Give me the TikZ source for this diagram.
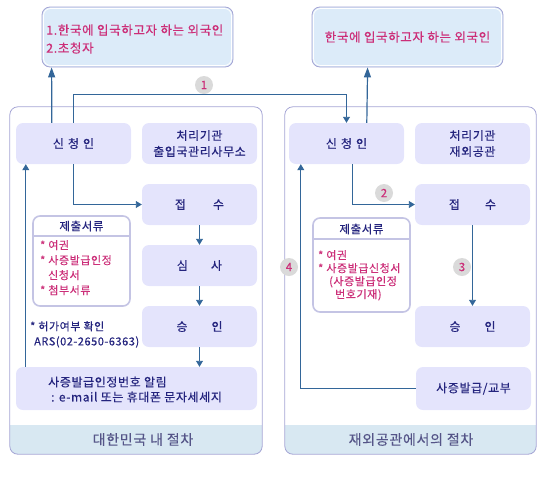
\documentclass[tikz,border=0pt]{standalone}
\usepackage{fontspec}
\setmainfont{Noto Sans CJK KR}[LetterSpace=5,FakeBold=0.3]
\usetikzlibrary{arrows.meta,calc}
\definecolor{boxfill}{HTML}{E4E4FC}
\definecolor{navy}{HTML}{24247E}
\definecolor{mag}{HTML}{CC2E78}
\definecolor{conn}{HTML}{336699}
\definecolor{panelb}{HTML}{A4A4D4}
\definecolor{topfill}{HTML}{DCEBF9}
\definecolor{stripfill}{HTML}{D8E8F2}
\definecolor{striptext}{HTML}{555588}
\definecolor{docb}{HTML}{C4C4E4}
\definecolor{circ}{HTML}{DADADA}
\begin{document}
\begin{tikzpicture}[x=1pt,y=-1pt,
  ibox/.style={fill=boxfill, draw=none, rounded corners=7pt, inner sep=0pt,
    minimum width=115pt, minimum height=41pt, text=navy, align=center,
    font=\fontsize{12}{16}\selectfont},
  topbox/.style={fill=topfill, draw=panelb, line width=0.8pt, rounded corners=8pt,
    minimum width=191pt, minimum height=60pt, inner sep=0pt},
  topinner/.style={draw=white, line width=0.8pt, rounded corners=7pt,
    minimum width=188pt, minimum height=57pt, inner sep=0pt},
  panel/.style={draw=none, minimum width=252pt, minimum height=347pt, inner sep=0pt},
  docbox/.style={fill=white, draw=docb, line width=1.6pt, rounded corners=7pt,
    minimum width=97pt, inner sep=0pt},
  arrow/.style={draw=conn, line width=0.9pt, -{Triangle[length=6pt,width=7pt]}},
  uparrow/.style={draw=conn, line width=1.2pt, -{Triangle[length=10pt,width=7pt]}},
  num/.style={circle, fill=circ, minimum size=18pt, inner sep=0pt, text=mag,
    font=\fontsize{11.5}{12}\selectfont},
  magtext/.style={text=mag, align=left, inner sep=0pt, font=\fontsize{11}{15}\selectfont},
  navytext/.style={text=navy, inner sep=0pt, font=\fontsize{11}{15}\selectfont},
  striplabel/.style={text=striptext, inner sep=0pt, font=\fontsize{14}{16}\selectfont}]
\useasboundingbox (0,0) rectangle (546,480);

% panels
\node[panel] (panelL) at (136,280.5) {};
\node[panel, minimum width=251pt] (panelR) at (410.5,280.5) {};
\foreach \p in {panelL,panelR}{
  \begin{scope}
    \clip[rounded corners=8pt] (\p.south west) rectangle (\p.north east);
    \fill[stripfill] (\p.south west) rectangle ($(\p.south east)+(0,-29)$);
  \end{scope}
  \draw[panelb, line width=0.8pt, rounded corners=8pt] (\p.south west) rectangle (\p.north east);
}
\node[striplabel] (labL) at (143,439.5) {대한민국 내 절차};
\node[striplabel] (labR) at (411,439.5) {재외공관에서의 절차};

% top boxes
\node[topbox] (topL) at (137.5,37) {};
\node[topinner] (topLin) at (137.5,37) {};
\node[anchor=west, text=mag, align=left, inner sep=0pt, font=\fontsize{12.5}{18}\selectfont]
  (topLtext) at (46,39) {1.한국에 입국하고자 하는 외국인\\2.초청자};
\node[topbox] (topR) at (407.5,37) {};
\node[topinner] (topRin) at (407.5,37) {};
\node[text=mag, inner sep=0pt, font=\fontsize{12.5}{18}\selectfont] (topRtext) at (407.5,37)
  {한국에 입국하고자 하는 외국인};

% left boxes
\node[ibox] (sinL) at (73.5,143.5) {신\hspace{4pt}청\hspace{4pt}인};
\node[ibox] (orgL) at (199.5,143.5) {처리기관\\출입국관리사무소};
\node[ibox] (jeopL) at (199.5,204.5) {접\hspace{27pt}수};
\node[ibox] (simL) at (199.5,265.5) {심\hspace{23pt}사};
\node[ibox] (seungL) at (199.5,326.5) {승\hspace{24pt}인};
\node[ibox, minimum width=241pt, minimum height=43pt] (alimL) at (136.5,388.5) {};
\node[anchor=west, text=navy, align=left, inner sep=0pt, font=\fontsize{12}{15}\selectfont]
  (alimText) at (48,389.5) {사증발급인정번호 알림\\\hspace{3pt}: e-mail 또는 휴대폰 문자세세지};

% right boxes
\node[ibox] (sinR) at (346.5,143.5) {신\hspace{4pt}청\hspace{4pt}인};
\node[ibox] (orgR) at (472.5,143.5) {처리기관\\재외공관};
\node[ibox] (jeopR) at (472.5,204.5) {접\hspace{25pt}수};
\node[ibox] (seungR) at (472.5,326.5) {승\hspace{24pt}인};
\node[ibox, minimum height=43pt] (issueR) at (473.5,388.5) {사증발급/교부};

% document boxes
\node[docbox, minimum height=90pt] (docL) at (81.5,261) {};
\draw[docb, line width=1.6pt] ($(docL.north west)+(0,21)$) -- ($(docL.north east)+(0,21)$);
\node[text=navy, inner sep=0pt, font=\fontsize{11.5}{14}\selectfont] (docLh) at (81.5,226) {제출서류};
\node[magtext, anchor=north west] (docLi) at (40,240)
  {* 여권\\* 사증발급인정\\\hspace{8pt}신청서\\* 첨부서류};

\node[docbox, minimum height=94pt] (docR) at (361.5,265) {};
\draw[docb, line width=1.6pt] ($(docR.north west)+(0,22)$) -- ($(docR.north east)+(0,22)$);
\node[text=navy, inner sep=0pt, font=\fontsize{11.5}{14}\selectfont] (docRh) at (361.5,229) {제출서류};
\node[magtext, anchor=north west, font=\fontsize{11}{13}\selectfont] (docRi) at (318,250)
  {* 여권\\* 사증발급신청서\\\hspace{11pt}(사증발급인정\\\hspace{17pt}번호기재)};

% note
\node[navytext, anchor=north west, align=left] (note) at (30,321)
  {* 허가여부 확인\\\hspace{4pt}ARS(02-2650-6363)};

% connectors left
\draw[uparrow] ($(sinL.north west)+(36,0)$) -- ($(topL.south west)+(10,0)$);
\draw[arrow] (sinL.north) -- ++(0,-28) -| (sinR.north);
\node[num] (n1) at (204,85) {1};
\draw[arrow] (sinL.south) |- (jeopL.west);
\draw[arrow] ($(alimL.north west)+(10,0)$) -- ($(sinL.south west)+(10,0)$);
\draw[arrow] (jeopL.south) -- (simL.north);
\draw[arrow] (simL.south) -- (seungL.north);
\draw[arrow] (seungL.south) -- (seungL.south |- alimL.north);

% connectors right
\draw[uparrow] ($(sinR.north west)+(78,0)$) -- ($(topR.south west)+(56,0)$);
\draw[arrow] ($(sinR.south west)+(64,0)$) |- (jeopR.west);
\node[num] (n2) at (384,193) {2};
\draw[arrow] (jeopR.south) -- (seungR.north);
\node[num] (n3) at (462,267) {3};
\draw[arrow] (issueR.west) -| ($(sinR.south west)+(12,0)$);
\node[num] (n4) at (289,267) {4};
\end{tikzpicture}
\end{document}
